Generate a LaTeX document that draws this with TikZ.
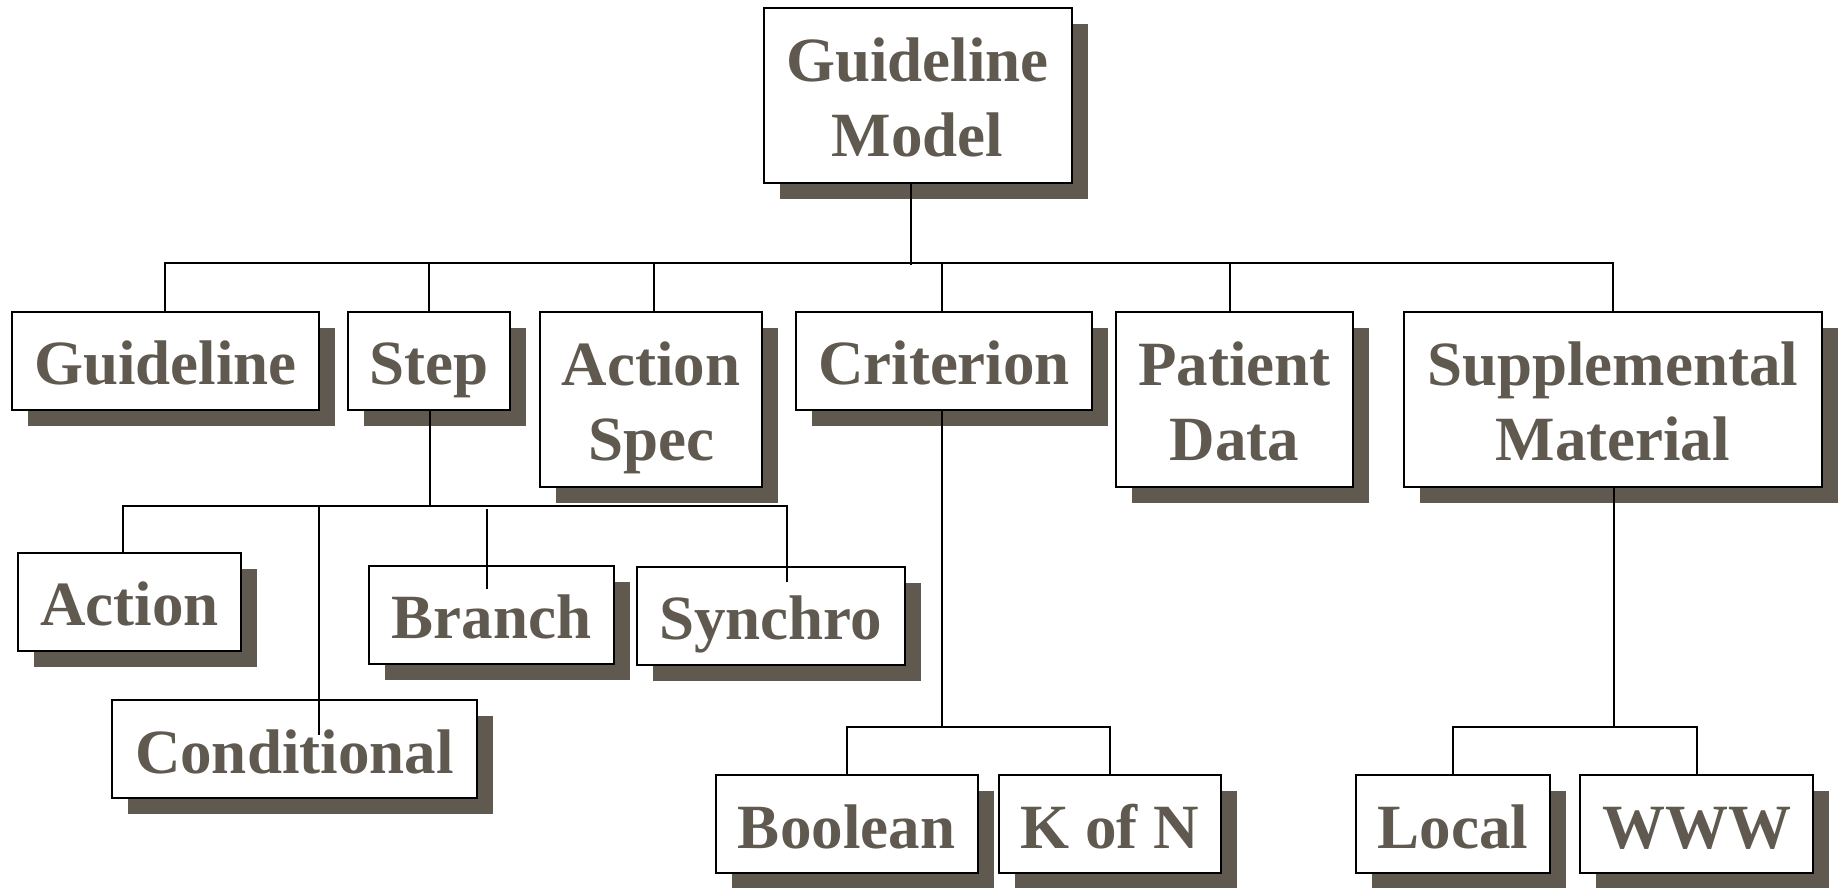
\documentclass[tikz,border=0pt]{standalone}
\usepackage{fontspec}
\setmainfont{Liberation Serif}
\usetikzlibrary{shadows}
\definecolor{shd}{RGB}{95,89,80}
\tikzset{
  bx/.style={draw=black, line width=2pt, fill=white, rectangle,
    minimum width=#1, text width=#1, inner xsep=0pt, inner ysep=0pt,
    align=flush center, text=shd,
    font={\fontsize{63}{75}\selectfont\bfseries},
    general shadow={fill=shd, shadow xshift=16pt, shadow yshift=-16pt}},
  one/.style={minimum height=98pt, text height=48pt, text depth=0pt},
  two/.style={minimum height=175pt, text height=10pt, text depth=38pt},
  conn/.style={draw=black, line width=2pt}
}
\begin{document}
\begin{tikzpicture}[x=1pt,y=-1pt]
\useasboundingbox (0,0) rectangle (1845,887);
\clip (0,0) rectangle (1845,887);
% level 0
\node[bx=308pt, two] (gm) at (917.5,95) {Guideline\\Model};
% level 1
\node[bx=307pt, one] (guideline) at (165.3,360.5) {Guideline};
\node[bx=162pt, one] (step) at (429.1,360.5) {Step};
\node[bx=222pt, two] (aspec) at (651,399) {Action\\Spec};
\node[bx=296pt, one] (crit) at (944,360.5) {Criterion};
\node[bx=236.5pt, two] (pdata) at (1234.25,399) {Patient\\Data};
\node[bx=418.5pt, two] (supp) at (1612.75,399) {Supplemental\\Material};
% step children
\node[bx=223pt, one] (action) at (129.5,601.5) {Action};
\node[bx=365pt, one] (cond) at (294.3,749) {Conditional};
\node[bx=244.7pt, one] (branch) at (491.3,614.5) {Branch};
\node[bx=268.3pt, one] (sync) at (770.8,615.8) {Synchro};
% criterion children
\node[bx=262pt, one] (bool) at (846.5,824) {Boolean};
\node[bx=222.4pt, one] (kofn) at (1109.8,824) {K of N};
% supplemental children
\node[bx=194.3pt, one] (local) at (1452.85,824) {Local};
\node[bx=233.3pt, one] (www) at (1696.65,824) {WWW};
% bus coordinates
\coordinate (hb) at (911,262.5);
\coordinate (sb) at (430,506);
\coordinate (cb) at (941.7,726.7);
\coordinate (mb) at (1614,726.7);
% connectors: top level
\draw[conn] ([xshift=-6.5pt]gm.south) -- ([xshift=-6.5pt,yshift=-2.5pt]gm.south |- hb);
\draw[conn] (guideline.north) |- (supp.north |- hb) -- (supp.north);
\draw[conn] (step.north) -- (step.north |- hb);
\draw[conn] ([xshift=3pt]aspec.north) -- ([xshift=3pt]aspec.north |- hb);
\draw[conn] ([xshift=-2.3pt]crit.north) -- ([xshift=-2.3pt]crit.north |- hb);
\draw[conn] ([xshift=-4.25pt]pdata.north) -- ([xshift=-4.25pt]pdata.north |- hb);
% step subtree
\draw[conn] ([xshift=0.9pt]step.south) -- ([xshift=0.9pt]step.south |- sb);
\draw[conn] ([xshift=-6.6pt]action.north) |- ([xshift=16.2pt]sync.north |- sb) -- ([xshift=16.2pt,yshift=-16pt]sync.north);
\draw[conn] ([xshift=24.3pt]cond.north |- sb) -- ([xshift=24.3pt,yshift=-36pt]cond.north);
\draw[conn] ([xshift=-4.6pt,yshift=-3pt]branch.north |- sb) -- ([xshift=-4.6pt,yshift=-24pt]branch.north);
% criterion subtree
\draw[conn] ([xshift=-2.3pt]crit.south) -- ([xshift=-2.3pt]crit.south |- cb);
\draw[conn] (bool.north) |- (kofn.north |- cb) -- (kofn.north);
% supplemental subtree
\draw[conn] ([xshift=1.25pt]supp.south) -- ([xshift=1.25pt]supp.south |- mb);
\draw[conn] (local.north) |- (www.north |- mb) -- (www.north);
\end{tikzpicture}
\end{document}
